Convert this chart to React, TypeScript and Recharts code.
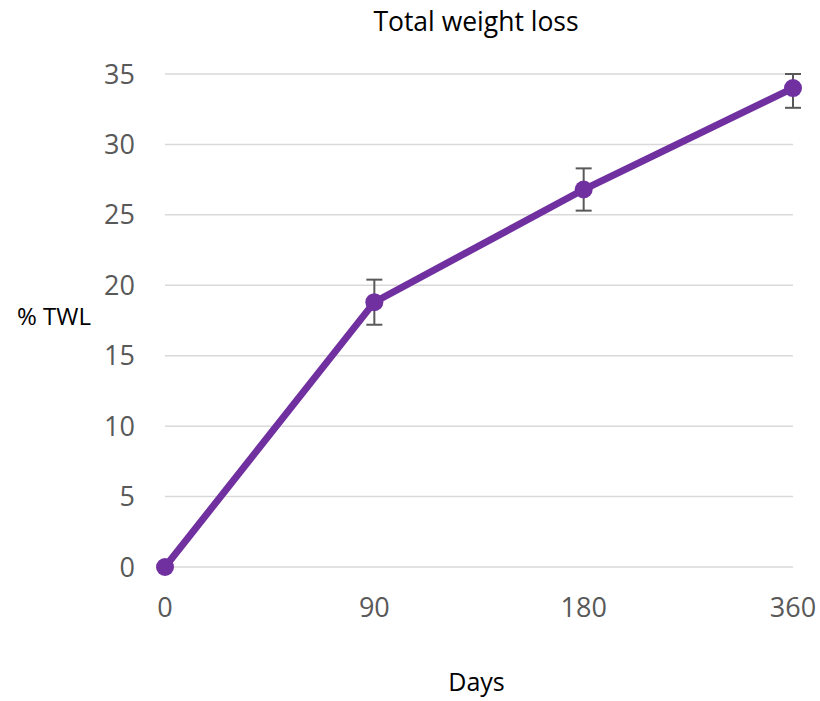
import { CartesianGrid, ErrorBar, Line, LineChart, XAxis, YAxis } from "recharts";

const days = ["0", "90", "180", "360"];
const twl = [0, 18.8, 26.8, 34.0];
// [below, above] error extents
const twlError = [null, [1.6, 1.6], [1.5, 1.5], [1.4, 1.0]];
const yTicks = [0, 5, 10, 15, 20, 25, 30, 35];

const data = days.map((day, i) => ({ day, twl: twl[i], err: twlError[i] }));

const font = "'Open Sans', Lato, sans-serif";
const purple = "#7030A0";

export default function App() {
  return (
    <div
      style={{
        position: "absolute",
        left: 0,
        top: 0,
        width: 820,
        height: 701,
        background: "#ffffff",
        fontFamily: font,
        lineHeight: "normal",
      }}
    >
      <div
        style={{
          position: "absolute",
          top: 3,
          left: 0,
          width: 952,
          textAlign: "center",
          fontSize: 26.5,
          color: "#000",
        }}
      >
        Total weight loss
      </div>
      <div
        style={{
          position: "absolute",
          top: 299,
          left: 17,
          fontSize: 24,
          color: "#000",
        }}
      >
        % TWL
      </div>
      <div
        style={{
          position: "absolute",
          top: 664,
          left: 0,
          width: 953,
          textAlign: "center",
          fontSize: 25,
          color: "#000",
        }}
      >
        Days
      </div>

      <LineChart
        width={820}
        height={701}
        data={data}
        margin={{ top: 74, right: 27, bottom: 0, left: 0 }}
        style={{ position: "absolute", left: 0, top: 0 }}
      >
        <CartesianGrid stroke="#d9d9d9" strokeWidth={1.5} vertical={false} />
        <XAxis
          dataKey="day"
          type="category"
          axisLine={false}
          tickLine={false}
          tickSize={0}
          tickMargin={31}
          height={134}
          interval={0}
          tick={{ fill: "#595959", fontFamily: font, fontSize: 27 }}
        />
        <YAxis
          type="number"
          domain={[0, 35]}
          ticks={yTicks}
          width={165}
          axisLine={false}
          tickLine={false}
          tickSize={0}
          tickMargin={30}
          interval={0}
          tick={{ fill: "#595959", fontFamily: font, fontSize: 27 }}
        />
        <Line
          dataKey="twl"
          stroke={purple}
          strokeWidth={7}
          dot={{ r: 9, fill: purple, stroke: "none" }}
          activeDot={false}
          isAnimationActive={false}
        >
          <ErrorBar
            dataKey="err"
            direction="y"
            width={8}
            stroke="#595959"
            strokeWidth={2}
            isAnimationActive={false}
          />
        </Line>
      </LineChart>
    </div>
  );
}
